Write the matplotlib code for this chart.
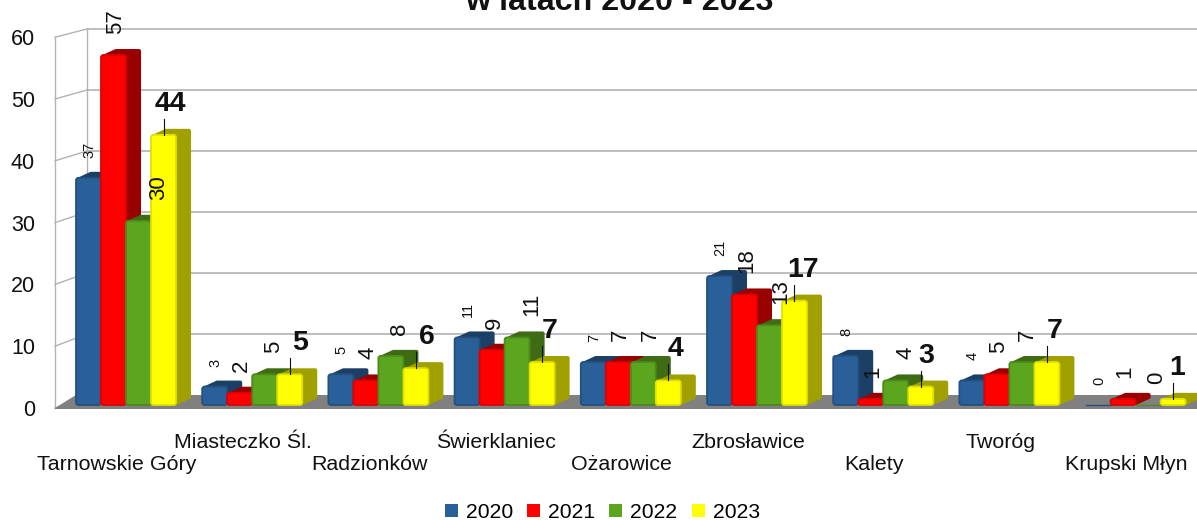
import matplotlib.pyplot as plt
from matplotlib.patches import Polygon, FancyBboxPatch

plt.rcParams['font.family'] = ['Liberation Sans', 'DejaVu Sans']

gminy = ['Tarnowskie Góry', 'Miasteczko Śl.', 'Radzionków', 'Świerklaniec', 'Ożarowice',
         'Zbrosławice', 'Kalety', 'Tworóg', 'Krupski Młyn']
lata = ['2020', '2021', '2022', '2023']
v2020 = [37, 3, 5, 11, 7, 21, 8, 4, 0]
v2021 = [57, 2, 4, 9, 7, 18, 1, 5, 1]
v2022 = [30, 5, 8, 11, 7, 13, 4, 7, 0]
v2023 = [44, 5, 6, 7, 4, 17, 3, 7, 1]
serie = [v2020, v2021, v2022, v2023]
y_ticks = [0, 10, 20, 30, 40, 50, 60]

kolory = ['#2a6099', '#ff0000', '#5ca51f', '#ffff00']
ciemne = ['#1c3f66', '#990000', '#3f6b15', '#a0a000']
krawedz = ['#24507f', '#dd0000', '#4c8a1a', '#e0e000']

# przesuniecia etykiet w px (recznie, jak na oryginale)
przes_2022 = [18, 7, 7, 13, 5, 9, 8, 3, 7]
przes_2023 = [7, 10, 11, 8, 7, 9, 6, 8, 4]

# skala: 126 px na gmine, 6.14 px na jednostke
PX_X = 126.2
PX_Y = 6.14
X0 = 76
Y0 = 405


def px_x(p):
    return (p - X0) / PX_X


def px_y(p):
    return (Y0 - p) / PX_Y


fig = plt.figure(figsize=(11.97, 5.2), dpi=100)
ax = fig.add_axes([0, 0, 1, 1])
ax.set_xlim(px_x(0), px_x(1197))
ax.set_ylim(px_y(520), px_y(0))
ax.axis('off')

# siatka i sciany
siatka = '#b3b3b3'
x_front = px_x(55)
x_back = px_x(87)
for t in y_ticks:
    yf = px_y(408 - t * 6.18)
    yb = px_y(395 - t * 6.1)
    if t > 0:
        ax.plot([x_back, px_x(1197)], [yb, yb], color=siatka, lw=1.2, zorder=1)
    ax.plot([x_front, x_back], [yf, yb], color=siatka, lw=1.0, zorder=1)
    ax.text(px_x(35), yf, str(t), ha='right', va='center_baseline', fontsize=15.5, color='#111111')
ax.plot([x_front, x_front], [px_y(408), px_y(37)], color=siatka, lw=1.0, zorder=1)
ax.plot([x_back, x_back], [px_y(395), px_y(29)], color=siatka, lw=1.0, zorder=1)

# podloga
podloga = Polygon([[x_front, px_y(408)], [px_x(76), px_y(395)], [px_x(1197), px_y(395)],
                   [px_x(1197), px_y(409)], [x_front, px_y(409)]],
                  closed=True, facecolor='#808080', edgecolor='none', zorder=2)
ax.add_patch(podloga)

# slupki
szer = 25 / PX_X
dx = 15 / PX_X
dy = 6 / PX_Y
rx = 2.5 / PX_X
ry = 2.5 / PX_Y
sx_r = 2 / PX_X
sy_r = 2 / PX_Y
z = 3
for i in range(len(gminy)):
    for s in range(4):
        w = serie[s][i]
        lewy = i + s * szer
        prawy = lewy + szer
        if w == 0:
            ax.plot([lewy, prawy], [0, 0], color=krawedz[s], lw=1, zorder=z)
            z += 1
            continue
        tyl = Polygon([[lewy + sx_r, w - sy_r], [lewy + dx, w + dy - sy_r], [prawy + dx - sx_r, w + dy - sy_r],
                       [prawy + dx - sx_r, dy + sy_r], [prawy, sy_r], [prawy, w - sy_r]],
                      closed=True, facecolor=ciemne[s], edgecolor=ciemne[s], lw=2.9,
                      joinstyle='round', zorder=z)
        ax.add_patch(tyl)
        front = FancyBboxPatch((lewy + rx, ry), szer - 2 * rx, w - 2 * ry,
                               boxstyle='round,pad=%f,rounding_size=%f' % (rx, rx),
                               mutation_aspect=PX_X / PX_Y, facecolor=kolory[s], edgecolor=krawedz[s],
                               lw=1.3, zorder=z + 1)
        ax.add_patch(front)
        z += 2

# etykiety wartosci
for i in range(len(gminy)):
    for s in range(4):
        w = serie[s][i]
        sx = i + (s + 0.5) * szer
        if s == 3:
            ax.plot([sx, sx], [w, w + 16 / PX_Y], color='#111111', lw=0.8, zorder=100)
            ax.text(sx + przes_2023[i] / PX_X, w + 31 / PX_Y, str(w), ha='center', va='center',
                    fontsize=20.5, fontweight='bold', color='#111111', zorder=100)
        elif s == 0:
            ax.text(sx + 1 / PX_X, w + 20 / PX_Y, str(w), rotation=90, ha='center', va='bottom',
                    fontsize=10.5, color='#111111', zorder=100)
        elif s == 1:
            ax.text(sx + 2 / PX_X, w + 21 / PX_Y, str(w), rotation=90, ha='center', va='bottom',
                    fontsize=16, color='#111111', zorder=100)
        else:
            ax.text(sx + (przes_2022[i] + 2) / PX_X, w + 21 / PX_Y, str(w), rotation=90, ha='center', va='bottom',
                    fontsize=16, color='#111111', zorder=100)

# nazwy gmin, na przemian w dwoch rzedach
for i, nazwa in enumerate(gminy):
    y_tekst = px_y(463) if i % 2 == 0 else px_y(441)
    ax.text(i + 41 / PX_X, y_tekst, nazwa, ha='center', va='center_baseline', fontsize=15.4, color='#111111')

ax.text(px_x(619), px_y(9.5), 'w latach 2020 - 2023', ha='center', va='baseline',
        fontsize=23.2, fontweight='bold', color='#111111', clip_on=False)

# legenda
uchwyty = [plt.Rectangle((0, 0), 1, 1, facecolor=kolory[s], edgecolor='none') for s in range(4)]
ax.legend(uchwyty, lata, ncol=4, loc='center', bbox_to_anchor=(0.5032, 0.0145), frameon=False, borderpad=0,
          fontsize=15.2, handlelength=0.62, handleheight=0.62, handletextpad=0.38, columnspacing=0.66)

fig.savefig('out.png', dpi=100)
